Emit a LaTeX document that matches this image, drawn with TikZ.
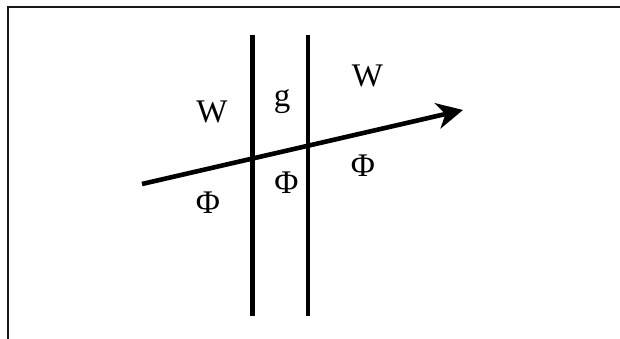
\documentclass[tikz,border=0pt]{standalone}
\usepackage{fontspec}
\setmainfont{Liberation Serif}
\usetikzlibrary{arrows.meta}
\begin{document}
\begin{tikzpicture}[x=1pt,y=-1pt,
  frameline/.style={line width=1.8pt,black!90},
  wall/.style={line width=4.6pt,line cap=butt},
  ray/.style={line width=4.6pt,-{Stealth[length=26pt,width=26pt,inset=8pt]}},
  lab/.style={font=\fontsize{33}{36}\selectfont,inner sep=0pt,anchor=base}]
\useasboundingbox (0,0) rectangle (620,339);
% frame (only top and left edges visible)
\coordinate (ftr) at (620,7);
\coordinate (ftl) at (8.2,7);
\coordinate (fbl) at (8.2,339);
\draw[frameline] (ftr) -- (ftl) -- (fbl);
% two vertical walls
\coordinate (l1t) at (252.5,35);
\coordinate (l1b) at (252.5,316);
\coordinate (l2t) at (308,35);
\coordinate (l2b) at (308,316);
\draw[wall] (l1t) -- (l1b);
\draw[wall] (l2t) -- (l2b);
% ray
\coordinate (rs) at (142,184);
\coordinate (re) at (463,110);
\draw[ray] (rs) -- (re);
% labels
\node[lab] (wl) at (212,123) {W};
\node[lab] (g) at (282,107) {g};
\node[lab] (wr) at (367.5,86.7) {W};
\node[lab] (phl) at (208,213.3) {Φ};
\node[lab] (phm) at (286.5,193.3) {Φ};
\node[lab] (phr) at (363,176.7) {Φ};
\end{tikzpicture}
\end{document}
